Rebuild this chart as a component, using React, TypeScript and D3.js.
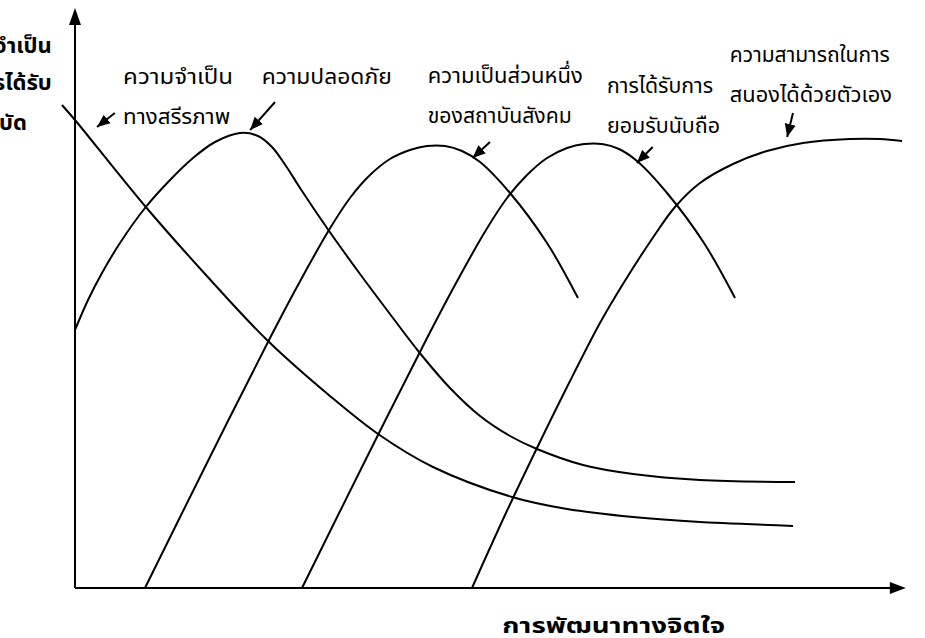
import React from "react";
import * as d3 from "d3";

// ---- data (abstract units: x = psychological development, y = need intensity) ----
const physiological: [number, number][] = [
  [-1.57, 96.6], [0, 93.6], [8.43, 76.4], [15.78, 62.6], [23.13, 49.6], [30.72, 38.4],
  [36.51, 30.8], [43.13, 24.2], [52.65, 18.2], [59.28, 15.8], [67.23, 14.2],
  [75.3, 13.2], [86.51, 12.4],
];
const safety: [number, number][] = [
  [0, 51.6], [1.57, 57.6], [3.25, 63], [5.42, 69], [8.43, 76], [11.45, 81.6],
  [14.22, 86], [16.87, 89.2], [19.88, 91], [22.05, 90.4], [23.73, 88.2], [25.42, 84.4],
  [27.11, 80], [30.36, 72], [34.34, 62.8], [37.95, 54.8], [41.45, 47.2], [45.18, 40],
  [48.8, 34.4], [52.41, 30.4], [55.66, 27.8], [61.2, 24.6], [67.23, 22.8], [75.3, 21.6],
  [86.75, 21.2],
];
const belonging: [number, number][] = [
  [8.43, 0], [15.78, 24.6], [23.25, 49.2], [26.87, 60.6], [30.6, 71.6], [33.13, 78],
  [35.54, 82.6], [37.95, 85.8], [40.36, 87.6], [42.41, 88.4], [44.58, 88.4],
  [46.63, 87.4], [48.8, 85.2], [52.41, 79], [56.87, 69], [60.6, 58],
];
const esteem: [number, number][] = [
  [27.35, 0], [34.7, 24.6], [42.17, 49.2], [45.78, 60.6], [49.52, 71.6], [52.05, 78],
  [54.46, 82.6], [56.87, 86], [59.28, 88], [61.33, 88.8], [63.49, 88.8], [65.54, 87.8],
  [67.71, 85.4], [71.33, 79], [75.78, 69], [79.52, 58],
];
const selfActualization: [number, number][] = [
  [47.83, 0], [51.81, 14.6], [55.66, 28], [59.28, 40.2], [63.25, 53], [66.02, 60.8],
  [69.76, 70.4], [72.29, 76.2], [75.3, 81], [79.28, 84.8], [83.37, 87.4], [87.71, 89],
  [93.37, 89.8], [96.99, 89.8], [99.64, 89.4],
];

const labelLines: string[][] = [
  ["ความจำเป็น", "ทางสรีรภาพ"],
  ["ความปลอดภัย"],
  ["ความเป็นส่วนหนึ่ง", "ของสถาบันสังคม"],
  ["การได้รับการ", "ยอมรับนับถือ"],
  ["ความสามารถในการ", "สนองได้ด้วยตัวเอง"],
];
const yTitleLines: string[] = ["ความจำเป็น", "ที่ต้องการได้รับ", "การบำบัด"];
const xTitle = "การพัฒนาทางจิตใจ";

// pointer arrows (tail -> tip), data units
const pointerArrows: [[number, number], [number, number]][] = [
  [[4.8, 95], [2.65, 92.2]],
  [[24.1, 97.2], [21.1, 91.6]],
  [[50.0, 89.2], [47.9, 86]],
  [[69.6, 88.2], [67.7, 85]],
  [[86.5, 95], [85.8, 90.2]],
];

// ---- layout ----
const W = 925, H = 638;
const X_AXIS_END = 100.1;
const Y_AXIS_END = 116;
const labelAnchors = [
  { x: 5.8, y: 100.8, widths: [110, 107] },
  { x: 22.5, y: 100.8, widths: [130] },
  { x: 42.5, y: 101, widths: [155, 144] },
  { x: 64.1, y: 99, widths: [106, 113] },
  { x: 78.9, y: 105.2, widths: [160, 162] },
];
const LINE_GAP = 40;
const yTitleAnchors = [
  { x: -2.8, y: 107 },
  { x: -2.8, y: 99.6 },
  { x: -5.8, y: 91.6 },
];
const FONT = "'Noto Sans Thai', 'Loma', 'Garuda', 'Norasi', 'Waree', 'DejaVu Sans', sans-serif";

export default function App() {
  const x = d3.scaleLinear().domain([0, 100]).range([75, 905]);
  const y = d3.scaleLinear().domain([0, 100]).range([588, 88]);
  const line = d3
    .line<[number, number]>()
    .x((d) => x(d[0]))
    .y((d) => y(d[1]))
    .curve(d3.curveCatmullRom.alpha(0.5));

  const series = [physiological, safety, belonging, esteem, selfActualization];

  const x0 = x(0), y0 = y(0);
  const xEnd = x(X_AXIS_END), yEnd = y(Y_AXIS_END);

  return (
    <svg
      width={W}
      height={H}
      viewBox={`0 0 ${W} ${H}`}
      style={{ position: "absolute", left: 0, top: 0, background: "#fff" }}
    >
      <defs>
        <marker
          id="ptr"
          markerUnits="userSpaceOnUse"
          markerWidth={14}
          markerHeight={12}
          refX={13}
          refY={6}
          orient="auto"
        >
          <path d="M0,0.5 L13,6 L0,11.5 Z" fill="#000" />
        </marker>
      </defs>

      {/* axes */}
      <line x1={x0} y1={y0} x2={x0} y2={yEnd + 12} stroke="#000" strokeWidth={2} />
      <path d={`M${x0},${yEnd} L${x0 - 6},${yEnd + 17} L${x0 + 6},${yEnd + 17} Z`} fill="#000" />
      <line x1={x0} y1={y0} x2={xEnd - 10} y2={y0} stroke="#000" strokeWidth={2} />
      <path d={`M${xEnd},${y0} L${xEnd - 16},${y0 - 6} L${xEnd - 16},${y0 + 6} Z`} fill="#000" />

      {/* curves */}
      {series.map((s, i) => (
        <path key={i} d={line(s) || ""} fill="none" stroke="#000" strokeWidth={2} />
      ))}

      {/* pointer arrows */}
      {pointerArrows.map(([t, h], i) => (
        <line
          key={i}
          x1={x(t[0])}
          y1={y(t[1])}
          x2={x(h[0])}
          y2={y(h[1])}
          stroke="#000"
          strokeWidth={2}
          markerEnd="url(#ptr)"
        />
      ))}

      {/* labels */}
      {labelLines.map((lines, i) =>
        lines.map((txt, j) => (
          <text
            key={`${i}-${j}`}
            x={x(labelAnchors[i].x)}
            y={y(labelAnchors[i].y) + j * LINE_GAP}
            fontFamily={FONT}
            fontSize={22}
            textLength={labelAnchors[i].widths[j]}
            lengthAdjust="spacingAndGlyphs"
            fill="#000"
          >
            {txt}
          </text>
        ))
      )}

      {/* y title (clipped at left edge, as in the source image) */}
      {yTitleLines.map((txt, i) => (
        <text
          key={i}
          x={x(yTitleAnchors[i].x)}
          y={y(yTitleAnchors[i].y)}
          textAnchor="end"
          fontFamily={FONT}
          fontSize={22}
          fontWeight="bold"
          fill="#000"
        >
          {txt}
        </text>
      ))}

      {/* x title */}
      <text
        x={x(64.9)}
        y={y(-9)}
        textAnchor="middle"
        fontFamily={FONT}
        fontSize={22}
        fontWeight="bold"
        textLength={223}
        lengthAdjust="spacingAndGlyphs"
        fill="#000"
      >
        {xTitle}
      </text>
    </svg>
  );
}
